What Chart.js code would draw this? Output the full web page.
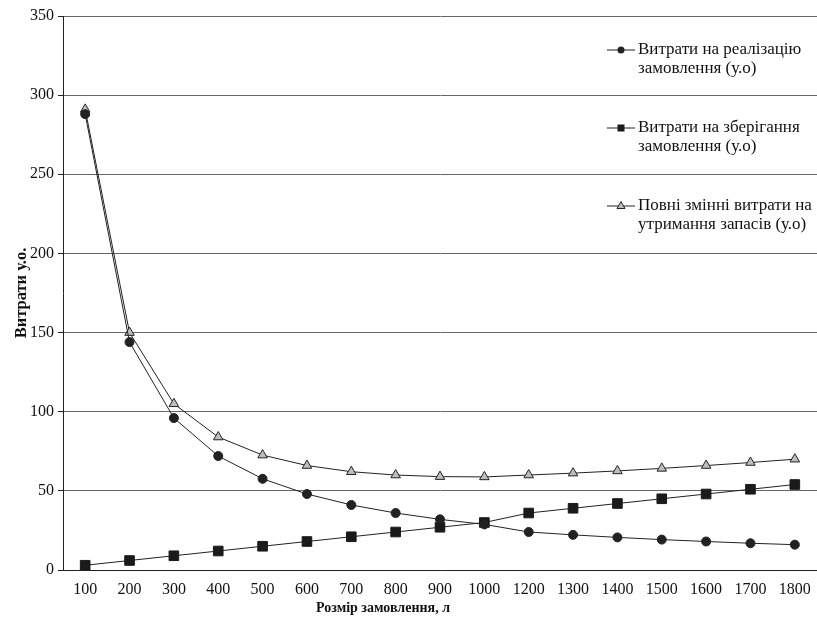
<!DOCTYPE html>
<html>
<head>
<meta charset="utf-8">
<script src="https://cdn.jsdelivr.net/npm/chart.js@4/dist/chart.umd.min.js"></script>
<style>
  html, body { margin: 0; padding: 0; background: #fff; }
  #wrap { width: 817px; height: 626px; position: relative; }
</style>
</head>
<body>
<div id="wrap"><canvas id="c" width="817" height="626"></canvas></div>
<script>
const categories = ['100','200','300','400','500','600','700','800','900','1000','1200','1300','1400','1500','1600','1700','1800'];
const orderCosts   = [288, 144, 96, 72, 57.6, 48, 41.1, 36, 32, 28.8, 24, 22.2, 20.6, 19.2, 18, 16.9, 16];
const storageCosts = [3, 6, 9, 12, 15, 18, 21, 24, 27, 30, 36, 39, 42, 45, 48, 51, 54];
const totalCosts   = [291, 150, 105, 84, 72.6, 66, 62.1, 60, 59, 58.8, 60, 61.2, 62.6, 64.2, 66, 67.9, 70];
const seriesNames = [
  ['Витрати на реалізацію', 'замовлення (у.о)'],
  ['Витрати на зберігання', 'замовлення (у.о)'],
  ['Повні змінні витрати на', 'утримання запасів (у.о)']
];
const yTicks = { min: 0, max: 350, step: 50 };
const xTitle = 'Розмір замовлення, л';
const yTitle = 'Витрати у.о.';

const FONT = '"Liberation Serif", "Times New Roman", serif';

const legendPlugin = {
  id: 'customLegend',
  afterDraw(chart) {
    const ctx = chart.ctx;
    const ds = chart.data.datasets;
    const x0 = 607, x1 = 635, tx = 638;
    const ys = [50, 128, 206];
    ctx.save();
    ds.forEach((d, i) => {
      const y = ys[i];
      ctx.strokeStyle = '#222';
      ctx.lineWidth = 1;
      ctx.beginPath(); ctx.moveTo(x0, y); ctx.lineTo(x1, y); ctx.stroke();
      const cx = (x0 + x1) / 2;
      ctx.fillStyle = d.pointBackgroundColor;
      ctx.strokeStyle = d.pointBorderColor;
      if (d.pointStyle === 'circle') {
        ctx.beginPath(); ctx.arc(cx, y, 3.5, 0, Math.PI * 2); ctx.fill();
      } else if (d.pointStyle === 'rect') {
        ctx.fillRect(cx - 3.5, y - 3.5, 7, 7);
      } else {
        ctx.beginPath();
        ctx.moveTo(cx, y - 4.5); ctx.lineTo(cx + 4, y + 2.5); ctx.lineTo(cx - 4, y + 2.5); ctx.closePath();
        ctx.fill(); ctx.stroke();
      }
      ctx.fillStyle = '#111';
      ctx.font = '17px ' + FONT;
      ctx.textBaseline = 'middle';
      ctx.textAlign = 'left';
      seriesNames[i].forEach((line, k) => ctx.fillText(line, tx, y + k * 19));
    });
    // x axis title (placed left of the plot centre, as in the reference)
    ctx.font = 'bold 14px ' + FONT;
    ctx.textAlign = 'center';
    ctx.textBaseline = 'middle';
    ctx.fillStyle = '#111';
    ctx.fillText(xTitle, 383, 608);
    ctx.restore();
  }
};

new Chart(document.getElementById('c'), {
  type: 'line',
  data: {
    labels: categories,
    datasets: [
      {
        label: seriesNames[0].join(' '),
        data: orderCosts,
        borderColor: '#222', borderWidth: 1,
        pointStyle: 'circle', pointRadius: 4.5,
        pointBackgroundColor: '#222', pointBorderColor: '#222', pointBorderWidth: 1,
        tension: 0
      },
      {
        label: seriesNames[1].join(' '),
        data: storageCosts,
        borderColor: '#222', borderWidth: 1,
        pointStyle: 'rect', pointRadius: 6.8,
        pointBackgroundColor: '#1a1a1a', pointBorderColor: '#1a1a1a', pointBorderWidth: 1,
        tension: 0
      },
      {
        label: seriesNames[2].join(' '),
        data: totalCosts,
        borderColor: '#222', borderWidth: 1,
        pointStyle: 'triangle', pointRadius: 5.5,
        pointBackgroundColor: '#bdbdbd', pointBorderColor: '#222', pointBorderWidth: 1,
        tension: 0
      }
    ]
  },
  options: {
    responsive: false,
    animation: false,
    devicePixelRatio: 1,
    layout: { autoPadding: false, padding: { top: 16, right: 0, left: 0, bottom: 0 } },
    plugins: { legend: { display: false }, tooltip: { enabled: false } },
    scales: {
      x: {
        offset: true,
        grid: { display: true, drawOnChartArea: false, drawTicks: false },
        border: { display: true, color: '#222', width: 1 },
        ticks: { color: '#111', font: { family: FONT, size: 16 }, padding: 10, maxRotation: 0, autoSkip: false },
        title: { display: false },
        afterFit(s) { s.height = 56; s.paddingLeft = 0; s.paddingRight = 0; }
      },
      y: {
        min: yTicks.min, max: yTicks.max,
        ticks: { stepSize: yTicks.step, color: '#111', font: { family: FONT, size: 16 }, padding: 4 },
        grid: { color: '#666', lineWidth: 1, tickLength: 5, tickColor: '#222' },
        border: { display: true, color: '#222', width: 1 },
        title: { display: true, text: yTitle, color: '#111', font: { family: FONT, size: 16.5, weight: 'bold' }, padding: { top: 12, bottom: 0 } },
        afterFit(s) { s.width = 63; s.paddingTop = 0; s.paddingBottom = 0; }
      }
    }
  },
  plugins: [legendPlugin]
});
</script>
</body>
</html>
